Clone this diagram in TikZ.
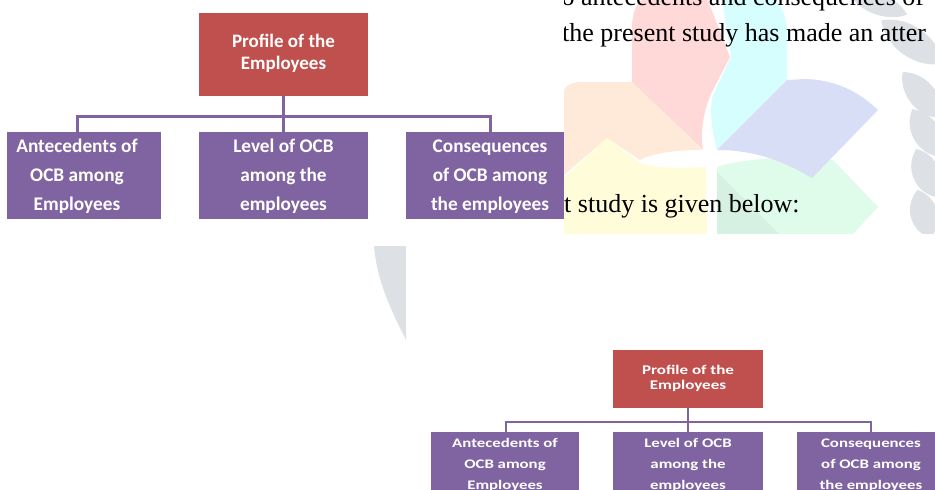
\documentclass[tikz,border=0pt]{standalone}
\usepackage{fontspec}
\setmainfont{Liberation Serif}
\newfontfamily\carlito{Carlito}
\definecolor{ocbred}{HTML}{C0504D}
\definecolor{ocbpurple}{HTML}{8064A2}
\definecolor{wmpink}{HTML}{FFD8D8}
\definecolor{wmcyan}{HTML}{D6FEFE}
\definecolor{wmlav}{HTML}{D7DEF5}
\definecolor{wmpeach}{HTML}{FFEAD9}
\definecolor{wmyellow}{HTML}{FFFDD9}
\definecolor{wmgreen}{HTML}{DFFBE9}
\definecolor{wmgreendk}{HTML}{D6F0E2}
\definecolor{wmgray}{HTML}{DDE1E6}
\newcommand\leafshape[5]{%
  \fill[wmgray, shift={(#1,#2)}, rotate=#3]
    (-#4/2,0) .. controls (-#4/4,#5) and (#4/4,#5) .. (#4/2,0)
    .. controls (#4/4,-#5) and (-#4/4,-#5) .. cycle;}
\tikzset{
  redbox/.style={fill=ocbred, inner sep=0pt, text=white},
  purplebox/.style={fill=ocbpurple, inner sep=0pt, text=white},
  conn/.style={draw=ocbpurple, line width=3pt},
  connsmall/.style={draw=ocbpurple, line width=2.6pt},
  topred/.style={font=\carlito\bfseries\fontsize{19}{22}\selectfont},
  toppurple/.style={font=\carlito\bfseries\fontsize{19.3}{29}\selectfont},
  botred/.style={font=\carlito\bfseries\fontsize{17}{19.2}\selectfont},
  botpurple/.style={font=\carlito\bfseries\fontsize{16.8}{27}\selectfont},
  pagetext/.style={anchor=base west, inner sep=0pt, font=\fontsize{26}{30}\selectfont, text=black}
}
\begin{document}
\begin{tikzpicture}[x=1pt,y=-1pt]
\useasboundingbox (0,0) rectangle (935,490);
\clip (0,0) rectangle (935,490);
\fill[white] (0,0) rectangle (935,490);

% ---------- top diagram ----------
\node[redbox, topred, minimum width=169pt, minimum height=83pt] (tr) at (283.5,54.5)
  {\begin{tabular}{@{}c@{}}Profile of the\\Employees\end{tabular}};
\node[purplebox, toppurple, minimum width=154pt, minimum height=83pt] (ta) at (84,175.5)
  {\begin{tabular}{@{}c@{}}Antecedents of\\OCB among\\Employees\end{tabular}\kern14pt};
\node[purplebox, toppurple, minimum width=169pt, minimum height=83pt] (tb) at (283.5,175.5)
  {\begin{tabular}{@{}c@{}}Level of OCB\\among the\\employees\end{tabular}};
\node[purplebox, toppurple, minimum width=168pt, minimum height=83pt] (tc) at (490,175.5)
  {\begin{tabular}{@{}c@{}}Consequences\\of OCB among\\the employees\end{tabular}};
\coordinate (tat) at (77,134);
\coordinate (tct) at (490,134);
\draw[conn] (tr.south) -- (tb.north);
\draw[conn] (tat) -- ++(0,-18) -| (tct);

% ---------- bottom diagram ----------
\node[redbox, botred, minimum width=150pt, minimum height=58pt] (br) at (688,379)
  {\scalebox{1}[0.78]{\begin{tabular}{@{}c@{}}Profile of the\\Employees\end{tabular}}};
\node[purplebox, botpurple, minimum width=148pt, minimum height=56pt] (ba) at (505,464)
  {\scalebox{1}[0.78]{\begin{tabular}{@{}c@{}}Antecedents of\\OCB among\\Employees\end{tabular}}};
\node[purplebox, botpurple, minimum width=150pt, minimum height=56pt] (bb) at (688,464)
  {\scalebox{1}[0.78]{\begin{tabular}{@{}c@{}}Level of OCB\\among the\\employees\end{tabular}}};
\node[purplebox, botpurple, minimum width=148pt, minimum height=56pt] (bc) at (871,464)
  {\scalebox{1}[0.78]{\begin{tabular}{@{}c@{}}Consequences\\of OCB among\\the employees\end{tabular}}};
\coordinate (bat) at (506,436);
\coordinate (bct) at (871,436);
\draw[connsmall] (br.south) -- (bb.north);
\draw[connsmall] (bat) -- ++(0,-14) -| (bct);

% ---------- faint grey sliver ----------
\fill[wmgray] (374,246) -- (406,246) -- (406,340) .. controls (392,312) and (377,282) .. (374,246) -- cycle;

% ---------- overlaid page fragment ----------
\begin{scope}
\clip (564,0) rectangle (935,233);
\fill[white] (564,0) rectangle (935,233);
% petals
\fill[wmpeach] (564,90) .. controls (567,84) and (574,82) .. (582,82) -- (632,82) -- (702,150)
  .. controls (680,150) and (655,152) .. (640,160) -- (607,138) -- (564,175) -- cycle;
\fill[wmpink] (632,82) -- (632,28) .. controls (632,12) and (637,2) .. (645,-2) -- (707,-2)
  -- (730,57) -- (712,92) .. controls (703,110) and (700,135) .. (703,150) -- cycle;
\fill[wmcyan] (722,-2) -- (772,-2) .. controls (783,6) and (787,18) .. (787,35) -- (787,80)
  -- (717,150) .. controls (712,130) and (709,110) .. (713,95) -- (731,57) -- cycle;
\fill[wmgreen] (717,167) .. controls (745,158) and (800,155) .. (833,160) -- (878,207)
  -- (852,235) -- (717,235) -- cycle;
\fill[wmgreendk] (717,172) -- (780,235) -- (717,235) -- cycle;
\fill[wmlav] (717,150) -- (787,80) -- (805,79) .. controls (840,80) and (862,95) .. (878,110)
  -- (812,178) .. controls (790,165) and (760,150) .. cycle;
\fill[wmyellow] (564,178) -- (607,138) -- (640,163) .. controls (660,169) and (685,168) .. (706,167)
  -- (707,235) -- (564,235) -- cycle;
% laurel leaves
\leafshape{878}{4}{160}{62}{14}
\leafshape{912}{42}{145}{75}{20}
\leafshape{922}{95}{130}{60}{18}
\leafshape{926}{133}{120}{55}{18}
\leafshape{926}{173}{112}{52}{18}
\leafshape{924}{214}{105}{50}{18}
% page text
\node[pagetext] (p1) at (561.5,5) {o antecedents and consequences of};
\node[pagetext] (p2) at (562,41) {the present study has made an atter};
\node[pagetext] (p3) at (564,212) {t study is given below:};
\end{scope}
\end{tikzpicture}
\end{document}
